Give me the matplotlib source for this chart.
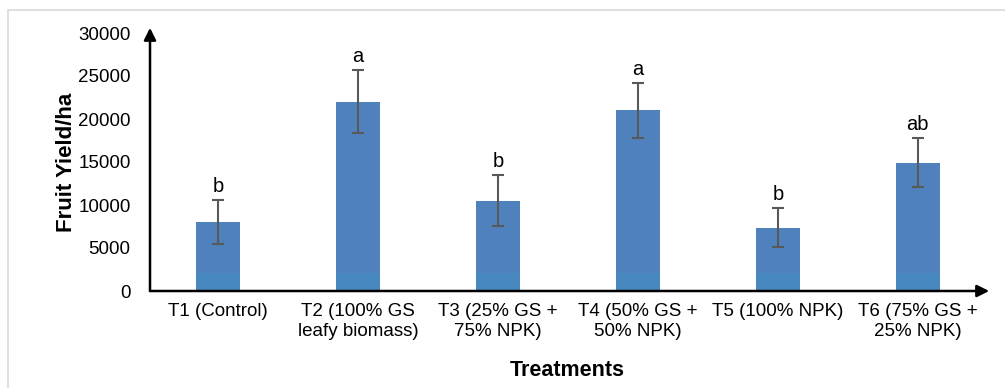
import matplotlib.pyplot as plt
from matplotlib.patches import Rectangle

plt.rcParams['font.family'] = ['Liberation Sans', 'DejaVu Sans']

treatments = ['T1 (Control)', 'T2 (100% GS\nleafy biomass)', 'T3 (25% GS +\n75% NPK)',
              'T4 (50% GS +\n50% NPK)', 'T5 (100% NPK)', 'T6 (75% GS +\n25% NPK)']
yield_ha = [8000, 22000, 10500, 21000, 7350, 14900]
yield_err = [2550, 3650, 2950, 3200, 2250, 2850]
letters = ['b', 'a', 'b', 'a', 'b', 'ab']
base_band = [2100, 2100, 2100, 2100, 2100, 2100]

fig = plt.figure(figsize=(10.05, 3.88), dpi=100)
fig.patches.append(Rectangle((8 / 1005, -0.01), 1.02, 1 - 10 / 388 + 0.01,
                             transform=fig.transFigure, fill=False,
                             edgecolor='#D9D9D9', linewidth=1.2))
ax = fig.add_axes([150 / 1005, 97 / 388, 835 / 1005, 258 / 388])

x = list(range(len(treatments)))
ax.bar(x, yield_ha, width=0.31, color='#4F81BD', zorder=2)
ax.bar(x, base_band, width=0.31, color='#4789BE', zorder=2)
ax.errorbar(x, yield_ha, yerr=yield_err, fmt='none', ecolor='#595959',
            elinewidth=1.5, capsize=4.5, capthick=1.5, zorder=3)
for xi, v, e, s in zip(x, yield_ha, yield_err, letters):
    ax.text(xi, v + e + 500, s, ha='center', va='bottom', fontsize=14.5)

ax.set_xlim(-0.486, 5.48)
ax.set_ylim(0, 30000)
ax.set_yticks(range(0, 30001, 5000))
ax.set_xticks(x)
ax.set_xticklabels(treatments, fontsize=13.5, linespacing=1.2)
ax.tick_params(axis='y', labelsize=13.5, length=0, pad=14)
ax.tick_params(axis='x', length=0, pad=9)
for sp in ax.spines.values():
    sp.set_visible(False)

# axis lines with arrow heads
ax.annotate('', xy=(0, 1.02), xytext=(0, 0), xycoords='axes fraction',
            arrowprops=dict(arrowstyle='-|>', color='black', lw=1.8,
                            mutation_scale=18, shrinkA=0, shrinkB=0))
ax.annotate('', xy=(1.005, 0), xytext=(0, 0), xycoords='axes fraction',
            arrowprops=dict(arrowstyle='-|>', color='black', lw=1.8,
                            mutation_scale=18, shrinkA=0, shrinkB=0))

ax.set_ylabel('Fruit Yield/ha', fontsize=16, fontweight='bold', labelpad=1)
ax.set_xlabel('Treatments', fontsize=15.5, fontweight='bold', labelpad=14)

fig.savefig('out.png', dpi=100)
